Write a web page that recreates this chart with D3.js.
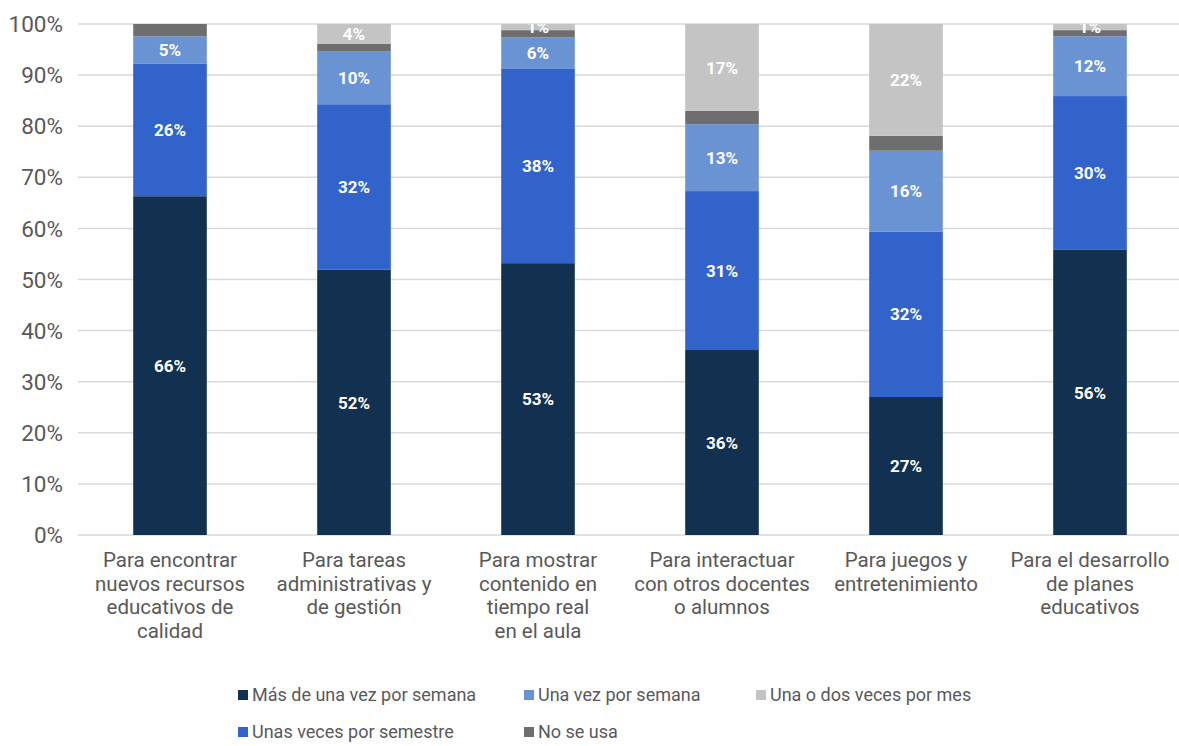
<!DOCTYPE html>
<html>
<head>
<meta charset="utf-8">
<script src="https://cdn.jsdelivr.net/npm/d3@7"></script>
<style>
  body { margin: 0; background: #fff; }
  text { font-family: Roboto, sans-serif; }
</style>
</head>
<body>
<script>
let categories = [
    ["Para encontrar", "nuevos recursos", "educativos de", "calidad"],
    ["Para tareas", "administrativas y", "de gestión"],
    ["Para mostrar", "contenido en", "tiempo real", "en el aula"],
    ["Para interactuar", "con otros docentes", "o alumnos"],
    ["Para juegos y", "entretenimiento"],
    ["Para el desarrollo", "de planes", "educativos"]
];

// series, bottom to top in the stack
let masDeUnaVez = [66.3, 51.9, 53.2, 36.2, 27.0, 55.8];
let unasVecesSemestre = [25.9, 32.4, 38.0, 31.1, 32.4, 30.1];
let unaVezSemana = [5.4, 10.4, 6.2, 13.1, 15.8, 11.7];
let noSeUsa = [2.4, 1.4, 1.4, 2.6, 2.9, 1.2];
let unaODosMes = [0, 3.9, 1.2, 17.0, 21.9, 1.2];

let stackKeys = ["Más de una vez por semana", "Unas veces por semestre", "Una vez por semana", "No se usa", "Una o dos veces por mes"];
let legendKeys = ["Más de una vez por semana", "Una vez por semana", "Una o dos veces por mes", "Unas veces por semestre", "No se usa"];
let yTicks = [0, 10, 20, 30, 40, 50, 60, 70, 80, 90, 100];

let size = {width: 1179, height: 746};
let plot = {left: 78, right: 1182, top: 24, bottom: 535};

let color = d3.scaleOrdinal()
    .domain(stackKeys)
    .range(["#12304f", "#3163cb", "#6a93d3", "#6e6e6e", "#c4c4c4"]);

let seriesValues = [masDeUnaVez, unasVecesSemestre, unaVezSemana, noSeUsa, unaODosMes];
let data = categories.map((c, i) => {
    let row = {idx: i};
    stackKeys.forEach((k, j) => row[k] = seriesValues[j][i]);
    return row;
});

let svg = d3.select("body").append("svg")
    .attr("width", size.width)
    .attr("height", size.height);

let x = d3.scaleBand()
    .domain(d3.range(categories.length))
    .range([plot.left, plot.right])
    .paddingInner(0.6)
    .paddingOuter(0.3);

let y = d3.scaleLinear()
    .domain([0, 100])
    .range([plot.bottom, plot.top]);

// gridlines
svg.append("g")
    .selectAll("line")
    .data(yTicks)
    .join("line")
    .attr("x1", plot.left)
    .attr("x2", size.width)
    .attr("y1", d => y(d))
    .attr("y2", d => y(d))
    .attr("stroke", "#d9d9d9")
    .attr("stroke-width", 1.5);

// y tick labels
svg.append("g")
    .selectAll("text")
    .data(yTicks)
    .join("text")
    .attr("x", 63)
    .attr("y", d => y(d))
    .attr("dy", "0.36em")
    .attr("text-anchor", "end")
    .attr("font-size", 22.5)
    .attr("fill", "#595959")
    .text(d => d + "%");

let stacked = d3.stack().keys(stackKeys)(data);

svg.append("g")
    .selectAll("g")
    .data(stacked)
    .join("g")
    .attr("fill", d => color(d.key))
    .selectAll("rect")
    .data(d => d)
    .join("rect")
    .attr("x", d => x(d.data.idx))
    .attr("width", x.bandwidth())
    .attr("y", d => y(d[1]))
    .attr("height", d => y(d[0]) - y(d[1]));

svg.append("clipPath")
    .attr("id", "plotclip")
    .append("rect")
    .attr("x", plot.left)
    .attr("y", plot.top)
    .attr("width", size.width - plot.left)
    .attr("height", plot.bottom - plot.top);

// value labels (none for "No se usa")
let labelled = stacked.filter(s => s.key !== "No se usa");
svg.append("g")
    .attr("clip-path", "url(#plotclip)")
    .selectAll("g")
    .data(labelled)
    .join("g")
    .selectAll("text")
    .data(d => d.filter(p => p[1] - p[0] > 0))
    .join("text")
    .attr("x", d => x(d.data.idx) + x.bandwidth() / 2)
    .attr("y", d => y((d[0] + d[1]) / 2))
    .attr("dy", "0.36em")
    .attr("text-anchor", "middle")
    .attr("font-size", 17)
    .attr("font-weight", "bold")
    .attr("fill", "#fff")
    .text(d => Math.round(d[1] - d[0]) + "%");

// category labels
svg.append("g")
    .selectAll("text")
    .data(categories)
    .join("text")
    .attr("text-anchor", "middle")
    .attr("font-size", 20.5)
    .attr("fill", "#595959")
    .attr("transform", (d, i) => `translate(${x(i) + x.bandwidth() / 2},${567})`)
    .selectAll("tspan")
    .data(d => d)
    .join("tspan")
    .attr("x", 0)
    .attr("y", (d, i) => i * 23.6)
    .text(d => d);

// legend
let legendPos = [[238, 695], [524, 695], [756, 695], [238, 732], [524, 732]];
let legend = svg.append("g")
    .selectAll("g")
    .data(legendKeys)
    .join("g")
    .attr("transform", (d, i) => `translate(${legendPos[i][0]},${legendPos[i][1]})`);

legend.append("rect")
    .attr("x", 0)
    .attr("y", -5)
    .attr("width", 10)
    .attr("height", 10)
    .attr("fill", d => color(d));

legend.append("text")
    .attr("x", 14)
    .attr("dy", "0.36em")
    .attr("font-size", 18)
    .attr("fill", "#595959")
    .text(d => d);
</script>
</body>
</html>
